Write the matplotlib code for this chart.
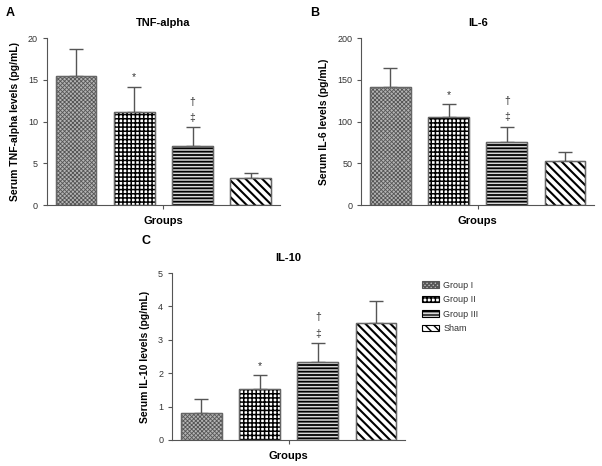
import matplotlib.pyplot as plt
import numpy as np

plt.rcParams['font.family'] = ['Liberation Sans', 'DejaVu Sans']

groups = ['Group I', 'Group II', 'Group III', 'Sham']

tnf_mean = [15.5, 11.2, 7.1, 3.3]
tnf_err = [3.2, 3.0, 2.2, 0.5]

il6_mean = [141, 106, 75, 53]
il6_err = [23, 15, 19, 10]

il10_mean = [0.82, 1.52, 2.33, 3.5]
il10_err = [0.41, 0.43, 0.57, 0.65]

# significance marks per bar
marks = [[], ['*'], ['‡', '†'], []]

hatches = ['xxxxxxxx', '++++', '-----', '\\\\\\\\']
faces = ['#b4b4b4', 'white', '#d8d8d8', 'white']
hcolors = ['#555555', 'black', 'black', 'black']
hwidths = [0.6, 1.1, 1.3, 1.5]

fig = plt.figure(figsize=(6.02, 4.66), dpi=100)


def panel(rect, means, errs, title, ylabel, ymax, yticks, letter, letter_xy):
    ax = fig.add_axes(rect)
    x = np.arange(len(means))
    for i in range(len(means)):
        with plt.rc_context({'hatch.linewidth': hwidths[i]}):
            ax.bar(x[i], means[i], width=0.7, color=faces[i], hatch=hatches[i],
                   edgecolor=hcolors[i], linewidth=0.8, label=groups[i], zorder=2)
        ax.bar(x[i], means[i], width=0.7, fill=False, edgecolor='#666666',
               linewidth=1.0, zorder=3)
    ax.errorbar(x, means, yerr=[np.zeros(len(errs)), errs], fmt='none',
                ecolor='#555555', elinewidth=1.0, capsize=5, capthick=1.0, zorder=1)
    for i in range(len(means)):
        top = means[i] + errs[i]
        for k, m in enumerate(marks[i]):
            ax.annotate(m, (x[i], top), xytext=(0, 3 + k * 12), textcoords='offset points',
                        ha='center', va='bottom', fontsize=7.5, color='#333333')
    ax.set_xlim(-0.5, 3.5)
    ax.set_ylim(0, ymax)
    ax.set_yticks(yticks)
    ax.set_xticks([1.5])
    ax.set_xticklabels(['Groups'], fontsize=8, fontweight='bold')
    ax.tick_params(axis='x', length=3, color='#555555', pad=5)
    ax.tick_params(axis='y', labelsize=6.5, length=3, color='#555555', labelcolor='#333333')
    for s in ['top', 'right']:
        ax.spines[s].set_visible(False)
    for s in ['left', 'bottom']:
        ax.spines[s].set_color('#555555')
        ax.spines[s].set_linewidth(0.8)
    ax.set_title(title, fontsize=8, fontweight='bold', pad=9)
    ax.set_ylabel(ylabel, fontsize=7.5, fontweight='bold', labelpad=6)
    fig.text(letter_xy[0], letter_xy[1], letter, fontsize=9, fontweight='bold', va='top')
    return ax


axA = panel([0.078, 0.560, 0.387, 0.358], tnf_mean, tnf_err, 'TNF-alpha',
            'Serum TNF-alpha levels (pg/mL)', 20, [0, 5, 10, 15, 20], 'A', (0.010, 0.985))
axB = panel([0.600, 0.560, 0.387, 0.358], il6_mean, il6_err, 'IL-6',
            'Serum IL-6 levels (pg/mL)', 200, [0, 50, 100, 150, 200], 'B', (0.515, 0.985))
axC = panel([0.286, 0.056, 0.387, 0.358], il10_mean, il10_err, 'IL-10',
            'Serum IL-10 levels (pg/mL)', 5, [0, 1, 2, 3, 4, 5], 'C', (0.235, 0.495))

handles, labels = axC.get_legend_handles_labels()
fig.legend(handles, labels, loc='upper left', bbox_to_anchor=(0.688, 0.415),
           frameon=False, fontsize=6.5, handlelength=1.8, handleheight=0.7,
           labelspacing=0.6, handletextpad=0.5, labelcolor='#333333')

fig.savefig('out.png', dpi=100)
